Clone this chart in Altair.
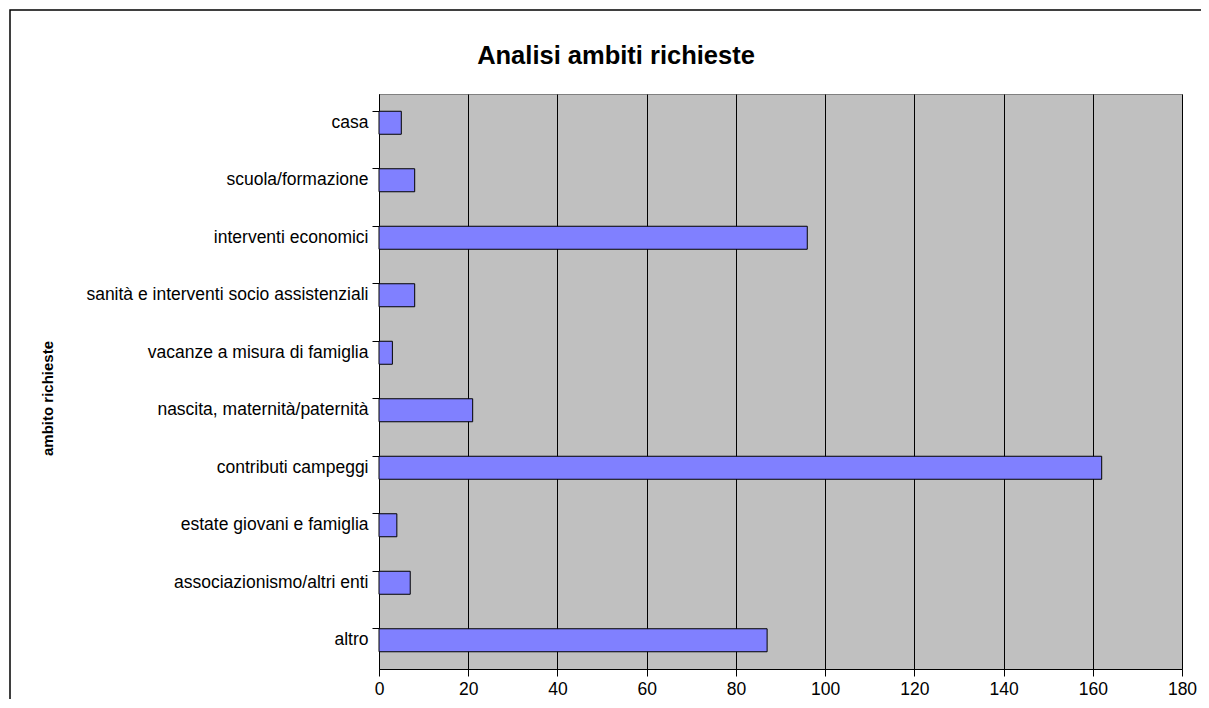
import altair as alt
import pandas as pd

categories = [
    "casa",
    "scuola/formazione",
    "interventi economici",
    "sanità e interventi socio assistenziali",
    "vacanze a misura di famiglia",
    "nascita, maternità/paternità",
    "contributi campeggi",
    "estate giovani e famiglia",
    "associazionismo/altri enti",
    "altro",
]
values = [5, 8, 96, 8, 3, 21, 162, 4, 7, 87]
x_ticks = [0, 20, 40, 60, 80, 100, 120, 140, 160, 180]
title_text = "Analisi ambiti richieste"

df = pd.DataFrame({"ambito": categories, "n": values})

FONT = "Liberation Sans"
W, H = 803, 575

bars = alt.Chart(df).mark_bar(
    color="#8080FF", stroke="#000000", strokeWidth=1
).encode(
    x=alt.X(
        "n:Q",
        scale=alt.Scale(domain=[0, 180], nice=False, zero=True),
        axis=alt.Axis(
            values=x_ticks, title=None, grid=True, gridColor="#000000",
            gridWidth=1, gridOpacity=1, domainColor="#000000", tickColor="#000000",
            tickSize=7, labelFont=FONT, labelFontSize=17.5, labelColor="#000000",
            labelPadding=4, labelFlush=False,
        ),
    ),
    y=alt.Y(
        "ambito:N",
        sort=categories,
        scale=alt.Scale(paddingInner=0.6, paddingOuter=0.3),
        axis=alt.Axis(
            title="ambito richieste", titleFont=FONT, titleFontSize=15,
            titleFontWeight="bold", titleColor="#000000", titleAngle=270,
            titleX=-332, titleY=304, titleAlign="center", titleBaseline="middle",
            grid=False, domainColor="#000000", tickColor="#000000", tickSize=7,
            bandPosition=0, labelFont=FONT, labelFontSize=17.5, labelColor="#000000",
            labelPadding=4, labelLimit=400,
        ),
    ),
)

frame = alt.Chart(alt.Data(values=[{}])).mark_rect(
    fill="transparent", stroke="#000000", strokeWidth=1.5, clip=False
).encode(
    x=alt.value(-369), y=alt.value(-84), x2=alt.value(900), y2=alt.value(700)
)

title = alt.Chart(alt.Data(values=[{"t": title_text}])).mark_text(
    font=FONT, fontSize=25.5, fontWeight="bold", color="#000000",
    align="center", baseline="alphabetic", clip=False,
).encode(
    text="t:N", x=alt.value(616 - 379), y=alt.value(64 - 94)
)

chart = alt.layer(frame, bars, title).properties(
    width=W,
    height=H,
    autosize=alt.AutoSizeParams(type="none"),
    padding={"left": 371, "top": 86, "right": 19, "bottom": 30},
    background="#FFFFFF",
).configure_view(
    fill="#C0C0C0", stroke="#808080", strokeWidth=1
)

chart.save("out.html", embed_options={"renderer": "svg", "actions": False})
